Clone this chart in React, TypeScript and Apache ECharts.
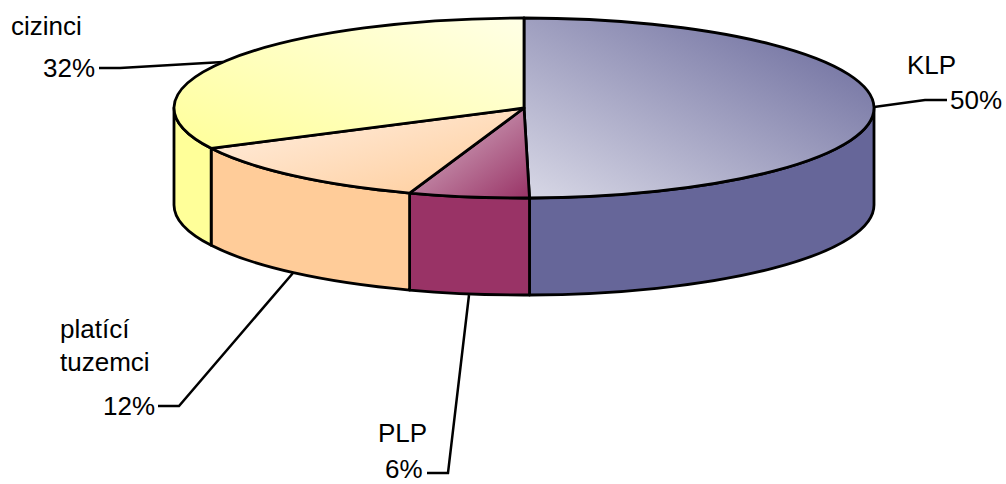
import React, { useEffect, useRef } from "react";
import * as echarts from "echarts";

const categories = ["KLP", "PLP", "platící tuzemci", "cizinci"];
const shares = [49.75, 5.55, 12.3, 32.4];
const percentLabels = ["50%", "6%", "12%", "32%"];
const sideColors = ["#666699", "#993366", "#FFCC99", "#FFFF99"];
const lightColors = ["#D8D8E6", "#DCC0D0", "#FFF0E4", "#FFFFE6"];

const CX = 524, CY = 108, RX = 350, RY = 90, DEPTH = 97;
const FONT = "Liberation Sans";
const FONT_SIZE = 26;

const pt = (deg: number, dy = 0) => {
  const r = (deg * Math.PI) / 180;
  return [CX + RX * Math.sin(r), CY - RY * Math.cos(r) + dy];
};

const gradients: number[][] = [
  [0, 1, 1, 0],
  [0, 0, 1, 1],
  [0, 0, 1, 1],
  [1, 0, 0, 1],
];

function renderSlice(params: any, api: any) {
  const i = params.dataIndex;
  const start = (api.value(0) / 100) * 360;
  const end = start + (api.value(1) / 100) * 360;
  const s = pt(start), e = pt(end);
  const large = end - start > 180 ? 1 : 0;
  const topPath = `M${CX} ${CY}L${s[0]} ${s[1]}A${RX} ${RY} 0 ${large} 1 ${e[0]} ${e[1]}Z`;
  const g = gradients[i];
  const stops = [
    { offset: 0, color: lightColors[i] },
    { offset: 1, color: sideColors[i] },
  ];
  const children: any[] = [];
  const a = Math.max(start, 90), b = Math.min(end, 270);
  if (b > a) {
    const p1 = pt(a), p2 = pt(b), p3 = pt(b, DEPTH), p4 = pt(a, DEPTH);
    children.push({
      type: "path",
      shape: {
        pathData: `M${p1[0]} ${p1[1]}A${RX} ${RY} 0 0 1 ${p2[0]} ${p2[1]}L${p3[0]} ${p3[1]}A${RX} ${RY} 0 0 0 ${p4[0]} ${p4[1]}Z`,
      },
      style: { fill: sideColors[i], stroke: "#000", lineWidth: 2.8, lineJoin: "round" },
    });
  }
  children.push({
    type: "path",
    shape: { pathData: topPath },
    style: {
      fill: new echarts.graphic.LinearGradient(g[0], g[1], g[2], g[3], stops),
      stroke: "#000",
      lineWidth: 2.8,
      lineJoin: "round",
    },
  });
  return { type: "group", children };
}

const leaderLines = [
  [[874, 107], [925, 100], [947, 100]],
  [[469, 295], [448, 473], [427, 473]],
  [[293, 273], [179, 406], [158, 406]],
  [[223, 62], [120, 68], [99, 68]],
];

const labelTexts: [string, number, number][] = [
  ["KLP", 907, 74],
  [percentLabels[0], 950, 109],
  ["PLP", 378, 442],
  [percentLabels[1], 385, 478],
  ["platící", 60, 338],
  ["tuzemci", 60, 371],
  [percentLabels[2], 103, 415],
  ["cizinci", 11, 35],
  [percentLabels[3], 43, 77],
];

export default function App() {
  const ref = useRef<HTMLDivElement>(null);
  useEffect(() => {
    const chart = echarts.init(ref.current!, undefined, { renderer: "svg" });
    let acc = 0;
    const data = shares.map((v, i) => {
      const item = { name: categories[i], value: [acc, v] };
      acc += v;
      return item;
    });
    chart.setOption({
      animation: false,
      backgroundColor: "#fff",
      series: [
        {
          type: "custom",
          coordinateSystem: "none",
          renderItem: renderSlice,
          data,
          silent: true,
          z: 2,
        },
      ],
      graphic: [
        ...leaderLines.map((points) => ({
          type: "polyline",
          z: 3,
          shape: { points },
          style: { stroke: "#000", lineWidth: 2.5, fill: "none" },
        })),
        ...labelTexts.map(([text, x, y]) => ({
          type: "text",
          z: 4,
          x,
          y: y - 9,
          style: {
            text,
            fill: "#000",
            font: `${FONT_SIZE}px "${FONT}"`,
            lineHeight: 22,
            textAlign: "left",
            verticalAlign: "middle",
          },
        })),
      ],
    });
    return () => chart.dispose();
  }, []);
  return (
    <div
      ref={ref}
      style={{ position: "fixed", left: 0, top: 0, width: 1006, height: 484 }}
    />
  );
}
